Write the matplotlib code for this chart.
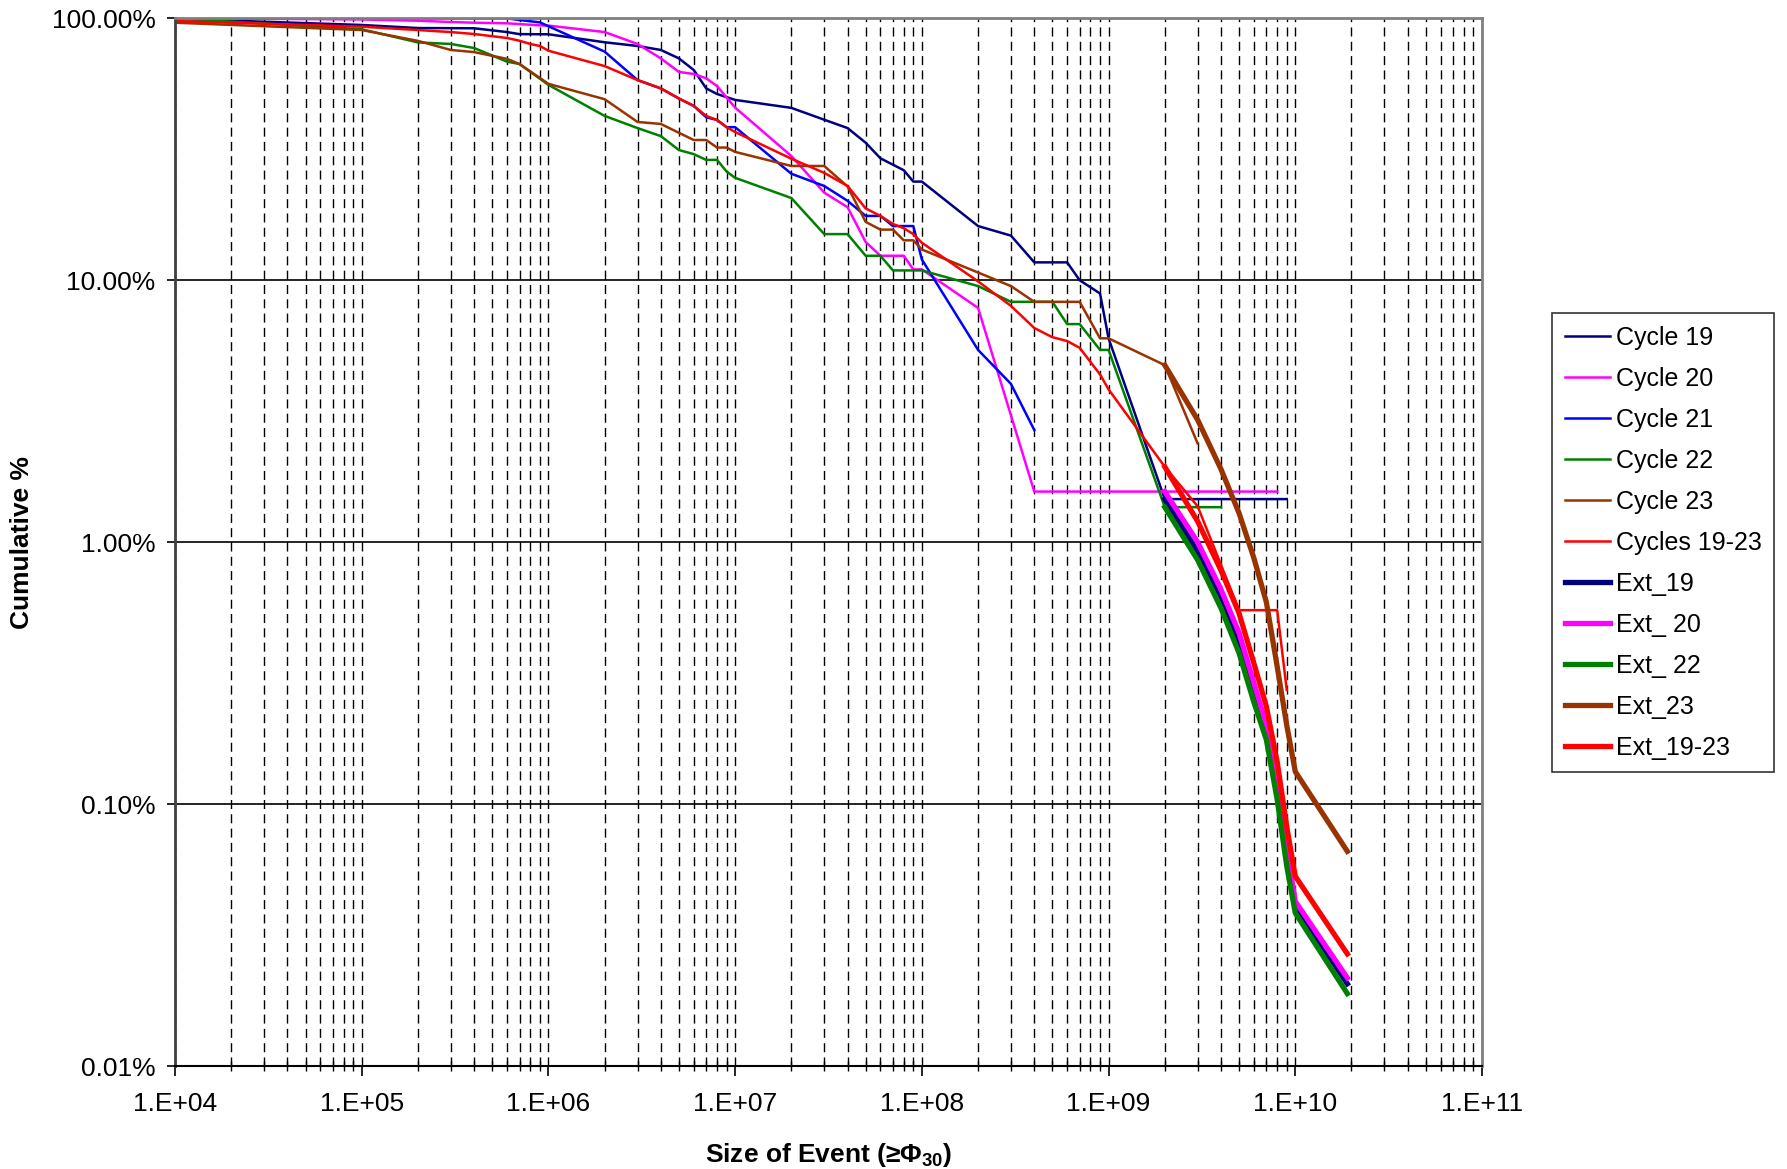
import math
import matplotlib
matplotlib.use('Agg')
import matplotlib.pyplot as plt
from matplotlib.ticker import FixedLocator, FuncFormatter, NullFormatter

plt.rcParams['font.family'] = ['Liberation Sans', 'DejaVu Sans']
plt.rcParams['mathtext.fontset'] = 'custom'
plt.rcParams['mathtext.rm'] = 'Liberation Sans'
plt.rcParams['mathtext.bf'] = 'Liberation Sans:bold'

# ---- data (size of event, cumulative %) ----
c19_x = [1e4, 1e5, 2e5, 4e5, 6e5, 7e5, 1e6, 2e6, 3e6, 4e6, 5e6, 6e6, 7e6, 8e6, 1e7,
         2e7, 3e7, 4e7, 5e7, 6e7, 8e7, 9e7, 1e8, 2e8, 3e8, 4e8, 6e8, 7e8, 9e8, 1e9, 2e9, 9e9]
c19_y = [99.6, 94.3, 91.8, 91.6, 88.6, 87.0, 86.9, 81.0, 78.4, 75.7, 70.3, 63.5, 54.0, 51.4, 48.8,
         45.5, 41.0, 38.1, 33.5, 29.2, 26.3, 23.8, 23.8, 16.1, 14.8, 11.7, 11.7, 10.0, 8.9, 6.0, 1.46, 1.46]

c20_x = [1e4, 1e5, 2e5, 3e5, 4e5, 6e5, 9e5, 1e6, 2e6, 3e6, 4e6, 5e6, 6e6, 7e6, 8e6, 1e7,
         2e7, 3e7, 4e7, 5e7, 6e7, 8e7, 9e7, 1e8, 2e8, 4e8, 8e9]
c20_y = [100.0, 99.0, 97.9, 96.8, 96.2, 95.7, 94.0, 93.8, 88.6, 79.8, 70.3, 62.4, 61.3, 59.0, 55.1, 45.6,
         29.8, 21.6, 19.0, 14.0, 12.4, 12.4, 11.0, 11.0, 7.84, 1.56, 1.56]

c21_x = [1e4, 6e5, 7e5, 9e5, 2e6, 3e6, 4e6, 5e6, 6e6, 7e6, 8e6, 9e6, 1e7,
         2e7, 3e7, 4e7, 5e7, 6e7, 7e7, 9e7, 1e8, 2e8, 3e8, 4e8]
c21_y = [100.0, 100.0, 98.5, 96.5, 74.6, 58.1, 54.0, 49.4, 46.3, 41.9, 40.9, 38.4, 38.4,
         25.5, 22.9, 20.1, 17.6, 17.6, 16.1, 16.1, 12.0, 5.42, 4.02, 2.68]

c22_x = [1e4, 1e5, 2e5, 3e5, 4e5, 6e5, 7e5, 1e6, 2e6, 3e6, 4e6, 5e6, 6e6, 7e6, 8e6, 9e6, 1e7,
         2e7, 3e7, 4e7, 5e7, 6e7, 7e7, 1e8, 2e8, 3e8, 5e8, 6e8, 7e8, 9e8, 1e9, 2e9, 4e9]
c22_y = [100.0, 90.8, 80.9, 79.8, 77.0, 68.3, 66.9, 55.7, 42.4, 38.1, 35.5, 31.4, 30.3, 28.8, 28.8, 26.0, 24.6,
         20.6, 15.0, 15.0, 12.4, 12.4, 10.9, 10.9, 9.5, 8.27, 8.27, 6.8, 6.8, 5.42, 5.42, 1.36, 1.36]

c23_x = [1e4, 1e5, 2e5, 3e5, 4e5, 6e5, 7e5, 1e6, 2e6, 3e6, 4e6, 6e6, 7e6, 8e6, 9e6, 1e7,
         2e7, 3e7, 4e7, 5e7, 6e7, 7e7, 8e7, 9e7, 1e8, 2e8, 3e8, 4e8, 7e8, 9e8, 1e9, 2e9, 3e9]
c23_y = [96.2, 90.2, 82.0, 75.7, 74.3, 70.0, 66.9, 56.2, 49.1, 40.2, 39.5, 34.3, 34.3, 32.1, 32.1, 30.9,
         27.3, 27.3, 22.8, 16.7, 15.6, 15.6, 14.2, 14.2, 13.1, 10.7, 9.5, 8.27, 8.27, 6.0, 6.0, 4.74, 2.38]

call_x = [1e4, 1e5, 2e5, 3e5, 4e5, 6e5, 7e5, 8e5, 9e5, 1e6, 2e6, 3e6, 4e6, 5e6, 6e6, 7e6, 8e6, 9e6, 1e7,
          2e7, 3e7, 4e7, 5e7, 6e7, 7e7, 8e7, 9e7, 1e8, 2e8, 3e8, 4e8, 5e8, 6e8, 7e8, 9e8, 1e9,
          2e9, 3e9, 5e9, 8e9, 9e9]
call_y = [97.6, 92.9, 90.2, 88.6, 87.1, 84.1, 82.1, 79.8, 78.4, 75.2, 65.7, 58.1, 54.0, 49.4, 46.3, 42.4, 40.9, 38.4, 36.8,
          29.1, 25.7, 22.9, 18.8, 17.6, 16.4, 15.8, 15.0, 13.9, 9.9, 7.98, 6.57, 6.06, 5.86, 5.52, 4.37, 3.83,
          1.94, 1.37, 0.55, 0.55, 0.273]

ext_x = [2e9, 3e9, 4e9, 5e9, 6e9, 7e9, 8e9, 9e9, 1e10, 1.9e10]
ext19_y = [1.46, 0.92, 0.62, 0.42, 0.27, 0.188, 0.112, 0.063, 0.041, 0.0206]
ext20_y = [1.56, 1.00, 0.66, 0.45, 0.29, 0.200, 0.120, 0.068, 0.0425, 0.0217]
ext22_y = [1.36, 0.855, 0.56, 0.377, 0.245, 0.176, 0.104, 0.058, 0.0384, 0.0189]
ext23_y = [4.74, 2.93, 1.90, 1.29, 0.87, 0.59, 0.335, 0.20, 0.133, 0.066]
ext_all_y = [1.94, 1.20, 0.78, 0.535, 0.345, 0.236, 0.145, 0.082, 0.053, 0.0268]

navy, mag, blue, green, brown, red = '#000080', '#FF00FF', '#0000FF', '#008000', '#993300', '#FF0000'

fig = plt.figure(figsize=(17.87, 11.69), dpi=100)
ax = fig.add_axes([175 / 1787, 1 - 1066 / 1169, (1482 - 175) / 1787, (1066 - 18.3) / 1169])

thin = 1.8
thick = 3.8
ax.plot(c19_x, c19_y, color=navy, lw=thin, label='Cycle 19')
ax.plot(c20_x, c20_y, color=mag, lw=thin, label='Cycle 20')
ax.plot(c21_x, c21_y, color=blue, lw=thin, label='Cycle 21')
ax.plot(c22_x, c22_y, color=green, lw=thin, label='Cycle 22')
ax.plot(c23_x, c23_y, color=brown, lw=thin, label='Cycle 23')
ax.plot(call_x, call_y, color=red, lw=thin, label='Cycles 19-23')
ax.plot(ext_x, ext19_y, color=navy, lw=thick, label='Ext_19')
ax.plot(ext_x, ext20_y, color=mag, lw=thick, label='Ext_ 20')
ax.plot(ext_x, ext22_y, color=green, lw=thick, label='Ext_ 22')
ax.plot(ext_x, ext23_y, color=brown, lw=thick, label='Ext_23')
ax.plot(ext_x, ext_all_y, color=red, lw=thick, label='Ext_19-23')

ax.set_xscale('log')
ax.set_yscale('log')
ax.set_xlim(1e4, 1e11)
ax.set_ylim(0.01, 100)

# gridlines
ax.set_axisbelow(True)
ax.xaxis.set_minor_locator(FixedLocator([m * 10.0 ** e for e in range(4, 11) for m in range(2, 10)]))
ax.xaxis.set_minor_formatter(NullFormatter())
ax.yaxis.set_minor_locator(FixedLocator([]))
ax.yaxis.set_minor_formatter(NullFormatter())
ax.grid(which='both', axis='x', color='black', lw=1.0, linestyle=(0, (6.5, 3.8)))
ax.grid(which='major', axis='y', color='black', lw=1.2, linestyle='-')

ax.xaxis.set_major_formatter(FuncFormatter(lambda v, p: '1.E+%02d' % round(math.log10(v))))
ax.yaxis.set_major_formatter(FuncFormatter(lambda v, p: '%.2f%%' % v))

ax.tick_params(axis='x', which='major', direction='out', length=7, width=1.2, labelsize=19, pad=12)
ax.tick_params(axis='x', which='minor', direction='inout', length=7, width=1.0)
ax.tick_params(axis='y', which='major', direction='out', length=6, width=1.2, labelsize=19, pad=8)

for s in ['top', 'right']:
    ax.spines[s].set_color('#808080')
    ax.spines[s].set_linewidth(2)
ax.spines['left'].set_color('#404040')
ax.spines['left'].set_linewidth(2)
ax.spines['bottom'].set_linewidth(1.5)

ax.set_ylabel('Cumulative %', fontsize=19, fontweight='bold')
ax.yaxis.set_label_coords(-(175 - 34) / 1307, 0.5)
ax.set_xlabel(r'Size of Event (≥Φ$_\mathbf{30}$)', fontsize=19, fontweight='bold')
ax.xaxis.set_label_coords(0.5, -(1141 - 1066) / 1048)

leg = ax.legend(loc='upper left', bbox_to_anchor=(1552 / 1787, 1 - 313 / 1169),
                bbox_transform=fig.transFigure, borderaxespad=0, fontsize=18,
                frameon=True, fancybox=False, edgecolor='black', handlelength=1.8,
                handletextpad=0.25, labelspacing=0.68, borderpad=0.5)
leg.get_frame().set_linewidth(1.2)

fig.savefig('out.png', dpi=100)
